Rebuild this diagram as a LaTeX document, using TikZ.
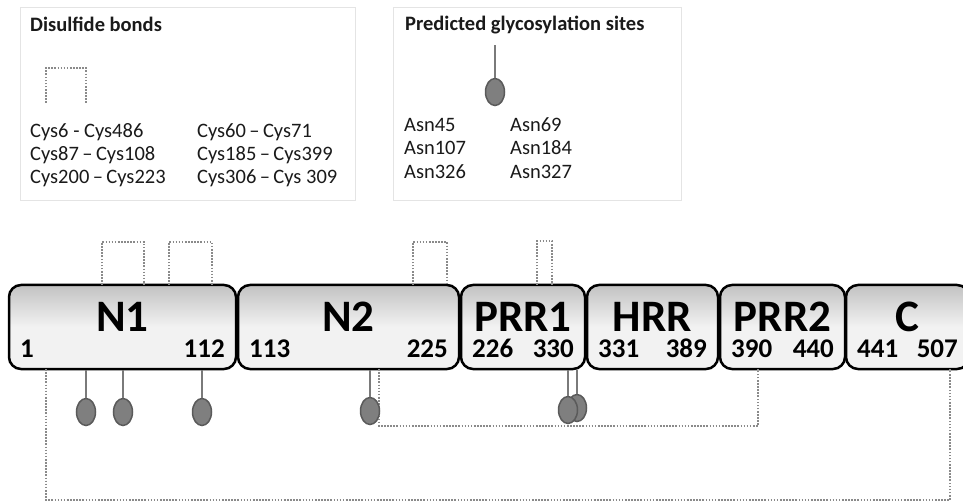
\documentclass[tikz,border=0pt]{standalone}
\usepackage{fontspec}
\setmainfont{Carlito}
\usepackage{tikz}
\usetikzlibrary{calc,shapes.geometric}
\definecolor{pinfill}{HTML}{7F7F7F}
\definecolor{pinedge}{HTML}{5A5A5A}
\definecolor{stalkgray}{HTML}{7A7A7A}
\definecolor{keyline}{HTML}{E4E4E4}
\definecolor{domtop}{HTML}{C2C2C2}
\definecolor{dombot}{HTML}{F2F2F2}
\definecolor{bondgray}{HTML}{8A8A8A}
\definecolor{keytext}{HTML}{1A1A1A}

\tikzset{
  protbox/.style={draw=black,line width=2.5pt,rounded corners=12pt,
    top color=domtop,bottom color=dombot,middle color=dombot,
    minimum height=84pt,inner sep=0pt},
  domlabel/.style={inner sep=0pt,font=\fontsize{45}{45}\selectfont\bfseries},
  domnum/.style={inner sep=0pt,font=\fontsize{27}{27}\selectfont\bfseries},
  bond/.style={draw=bondgray,line width=1.6pt,dash pattern=on 1.6pt off 1.5pt},
  glyco/.style={ellipse,draw=pinedge,line width=1.5pt,fill=pinfill,
    minimum width=19pt,minimum height=27pt,inner sep=0pt},
  stalk/.style={draw=stalkgray,line width=2pt},
  keybox/.style={draw=keyline,line width=0.8pt,fill=white,inner sep=0pt,anchor=north west},
  keytitle/.style={inner sep=0pt,anchor=base west,text=keytext,font=\fontsize{20.5}{20.5}\selectfont\bfseries},
  keyentry/.style={inner sep=0pt,anchor=base west,text=keytext,font=\fontsize{20.5}{20.5}\selectfont}
}

\begin{document}
\begin{tikzpicture}[x=1pt,y=-1pt]
  \clip (0,0) rectangle (963,502);
  \fill[white] (0,0) rectangle (963,502);

  % legend: disulfide bonds
  \node[keybox,minimum width=335pt,minimum height=193pt] (bondkey) at (20,7) {};
  \node[keytitle] (bondtitle) at (30,32) {Disulfide bonds};
  \coordinate (kb1) at (46,103);
  \coordinate (kb2) at (86,103);
  \draw[bond] (kb1) -- ++(0,-35) -| (kb2);
  \foreach \i/\x/\y/\txt in {a/30/138/{Cys6 - Cys486}, b/197/138/{Cys60\,--\,Cys71},
      c/30/161/{Cys87\,--\,Cys108}, d/197/161/{Cys185\,--\,Cys399},
      e/30/184/{Cys200\,--\,Cys223}, f/197/184/{Cys306\,--\,Cys 309}} {
    \node[keyentry] (bond\i) at (\x,\y) {\txt};
  }

  % legend: glycosylation sites
  \node[keybox,minimum width=288pt,minimum height=193pt] (glykey) at (393,7) {};
  \node[keytitle] (glytitle) at (405,31) {Predicted glycosylation sites};
  \node[glyco] (gkey) at (495,92) {};
  \coordinate (gkeytop) at (495,45);
  \draw[stalk] (gkey.north) -- (gkeytop);
  \foreach \i/\x/\y/\txt in {a/404/132/Asn45, b/510/132/Asn69,
      c/404/155/Asn107, d/510/155/Asn184,
      e/404/179/Asn326, f/510/179/Asn327} {
    \node[keyentry] (asn\i) at (\x,\y) {\txt};
  }

  % domains
  \foreach \nm/\xa/\xb/\first/\last in {N1/9/236/1/112, N2/238/459/113/225,
      PRR1/461/585/226/330, HRR/587/718/331/389, PRR2/720/845/390/440, C/846/969/441/507} {
    \pgfmathsetmacro\xm{(\xa+\xb)/2}
    \pgfmathsetmacro\boxw{\xb-\xa}
    \node[protbox,minimum width=\boxw pt] (d\nm) at (\xm,327) {};
    \node[domlabel,anchor=base] (t\nm) at (\xm,331) {\nm};
    \node[domnum,anchor=base west] (f\nm) at (\xa+11,357) {\first};
    \node[domnum,anchor=base east] (l\nm) at (\xb-11,357) {\last};
  }

  % cysteines
  \foreach \res/\x/\y in {6/46/369, 486/950/369, 60/102/285, 71/144/285,
      87/169/285, 108/212/285, 200/413/285, 223/447/285, 306/537/285,
      309/552/285, 185/379/369, 399/758/369} {
    \coordinate (c\res) at (\x,\y);
  }
  \draw[bond] (c60) -- ++(0,-43) -| (c71);
  \draw[bond] (c87) -- ++(0,-43) -| (c108);
  \draw[bond] (c200) -- ++(0,-43) -| (c223);
  \draw[bond] (c306) -- ++(0,-44) -| (c309);
  \draw[bond] (c185) -- ++(0,57) -| (c399);
  \draw[bond] (c6) -- ++(0,131) -| (c486);

  % glycosylation sites
  \foreach \site/\x/\y/\dom in {45/86/412/N1, 69/123/412/N1, 107/202/412/N1,
      184/370/411/N2, 327/577/408/PRR1, 326/568/410/PRR1} {
    \node[glyco] (g\site) at (\x,\y) {};
    \draw[stalk] (g\site.north) -- (g\site.north |- d\dom.south);
  }
\end{tikzpicture}
\end{document}
